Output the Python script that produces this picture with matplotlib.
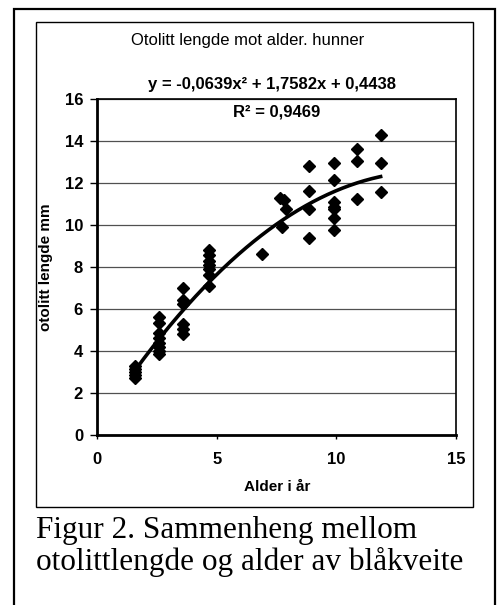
import numpy as np
import matplotlib
matplotlib.use('Agg')
import matplotlib.pyplot as plt
from matplotlib.patches import Rectangle

# alder (år) og otolittlengde (mm), lest av figuren
alder = [1.6, 1.6, 1.6, 1.6, 1.6,
         2.6, 2.6, 2.6, 2.6, 2.6, 2.6, 2.6, 2.6,
         3.6, 3.6, 3.6, 3.6, 3.6, 3.6,
         4.7, 4.7, 4.7, 4.7, 4.7, 4.7, 4.7,
         6.9, 7.65, 7.8, 7.9, 7.75,
         8.85, 8.85, 8.85, 8.85,
         9.9, 9.9, 9.9, 9.9, 9.9, 9.9, 9.9,
         10.85, 10.85, 10.85,
         11.85, 11.85, 11.85]
lengde = [3.3, 3.15, 3.0, 2.85, 2.7,
          5.6, 5.35, 4.85, 4.6, 4.4, 4.2, 4.0, 3.85,
          7.0, 6.45, 6.25, 5.3, 5.05, 4.8,
          8.8, 8.55, 8.3, 8.1, 7.9, 7.6, 7.1,
          8.6, 11.3, 11.2, 10.75, 9.9,
          12.8, 11.6, 10.75, 9.4,
          12.95, 12.15, 11.1, 10.85, 10.75, 10.35, 9.75,
          13.6, 13.05, 11.25,
          14.3, 12.95, 11.55]

# trendlinje (2. grads polynom) fra Excel
koef = [-0.0639, 1.7582, 0.4438]
r2 = 0.9469

x_ticks = [0, 5, 10, 15]
y_ticks = [0, 2, 4, 6, 8, 10, 12, 14, 16]

W, H = 499, 605
fig = plt.figure(figsize=(W / 100, H / 100), dpi=100)
fig.patch.set_facecolor('white')

def fx(px):
    return px / W

def fy(py):
    return 1 - py / H

# ytre ramme og diagramramme
fig.patches.append(Rectangle((fx(14), fy(640)), fx(495) - fx(14), fy(9) - fy(640),
                             transform=fig.transFigure, fill=False, lw=1.6, ec='black'))
fig.patches.append(Rectangle((fx(36), fy(507)), fx(473) - fx(36), fy(22) - fy(507),
                             transform=fig.transFigure, fill=False, lw=1.0, ec='black'))

ax = fig.add_axes([fx(97), fy(435), fx(456) - fx(97), fy(99) - fy(435)])
ax.set_xlim(0, 15)
ax.set_ylim(0, 16)
ax.set_xticks(x_ticks)
ax.set_yticks(y_ticks)
ax.yaxis.grid(True, color='#505050', lw=0.9)
ax.set_axisbelow(True)

for side in ['left', 'bottom']:
    ax.spines[side].set_linewidth(2.0)
for side in ['top', 'right']:
    ax.spines[side].set_linewidth(1.2)

ax.tick_params(axis='y', direction='out', length=5, width=1.0, pad=5)
ax.tick_params(axis='x', direction='out', length=3, width=1.0, pad=9)
for lab in ax.get_xticklabels() + ax.get_yticklabels():
    lab.set_fontfamily('Liberation Sans')
    lab.set_fontweight('bold')
    lab.set_fontsize(12)

ax.plot(alder, lengde, linestyle='none', marker='D', ms=6, color='black', zorder=3)

xs = np.linspace(min(alder), max(alder), 200)
ax.plot(xs, np.polyval(koef, xs), color='black', lw=2.6, zorder=4)

fig.text(fx(248), fy(40), 'Otolitt lengde mot alder. hunner', ha='center', va='center',
         fontsize=12, family='Liberation Sans')
fig.text(fx(272), fy(85), 'y = -0,0639x² + 1,7582x + 0,4438', ha='center', va='center',
         fontsize=12, family='Liberation Sans', fontweight='bold')
fig.text(fx(277), fy(112), 'R² = %s' % str(r2).replace('.', ','), ha='center', va='center',
         fontsize=12, family='Liberation Sans', fontweight='bold')

fig.text(fx(277), fy(487), 'Alder i år', ha='center', va='center',
         fontsize=11, family='Liberation Sans', fontweight='bold')
fig.text(fx(46), fy(267), 'otolitt lengde mm', ha='center', va='center', rotation=90,
         fontsize=11, family='Liberation Sans', fontweight='bold')

fig.text(fx(36), fy(538), 'Figur 2. Sammenheng mellom', ha='left', va='baseline',
         fontsize=22.5, family='Liberation Serif')
fig.text(fx(36), fy(570), 'otolittlengde og alder av blåkveite', ha='left', va='baseline',
         fontsize=22.5, family='Liberation Serif')

fig.savefig('out.png', dpi=100)
